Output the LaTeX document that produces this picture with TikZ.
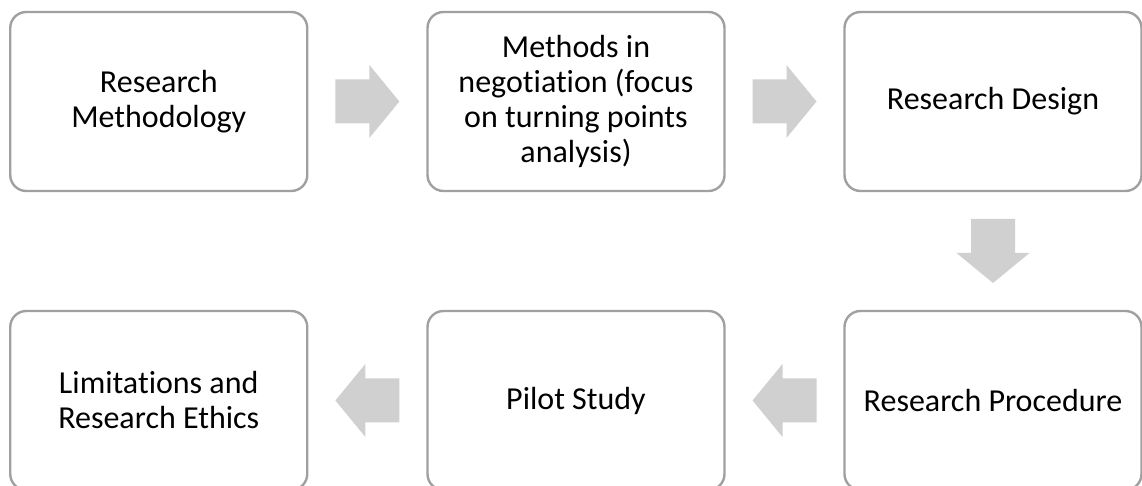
\documentclass[tikz,border=0pt]{standalone}
\usepackage{fontspec}
\setmainfont{Carlito}[Ligatures={NoCommon}]
\usetikzlibrary{calc}
\definecolor{boxline}{HTML}{A0A0A0}
\definecolor{arrowgray}{HTML}{D0D0D0}
\tikzset{
  stage/.style={draw=boxline, line width=2.4pt, rounded corners=16pt, fill=white,
    minimum width=297pt, minimum height=179pt, inner sep=0pt, align=center,
    font=\fontsize{32}{35}\selectfont, text=black},
  barrow/.pic={\fill[arrowgray] (-32,-22) -- (2,-22) -- (2,-36.5) -- (32,0)
    -- (2,36.5) -- (2,22) -- (-32,22) -- cycle;}
}
\begin{document}
\begin{tikzpicture}[x=1pt,y=1pt]
  \clip (0,0) rectangle (1142,486);
  \useasboundingbox (0,0) rectangle (1142,486);
  % top row
  \node[stage] (meth)   at (158.75,384.5) {Research\\Methodology};
  \node[stage] (neg)    at (576,384.5) {Methods in\\negotiation (focus\\on turning points\\analysis)};
  \node[stage] (design) at (993,384.5) {Research Design};
  % bottom row
  \node[stage] (proc)   at (993,85.5) {Research Procedure};
  \node[stage] (pilot)  at (576,85.5) {Pilot Study};
  \node[stage] (limit)  at (158.75,85.5) {Limitations and\\Research Ethics};
  % block arrows between stages
  \pic at ($(meth.east)!0.5!(neg.west)$) {barrow};
  \pic at ($(neg.east)!0.5!(design.west)$) {barrow};
  \pic[rotate=-90] at ($(design.south)!0.5!(proc.north)$) {barrow};
  \pic[rotate=180] at ($(proc.west)!0.5!(pilot.east)$) {barrow};
  \pic[rotate=180] at ($(pilot.west)!0.5!(limit.east)$) {barrow};
\end{tikzpicture}
\end{document}
